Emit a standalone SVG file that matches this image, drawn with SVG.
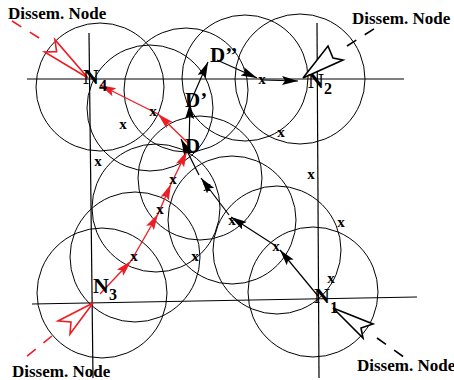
<svg xmlns="http://www.w3.org/2000/svg" width="454" height="380" viewBox="0 0 454 380">
<style>
.c{fill:none;stroke:#000;stroke-width:1}
.g{fill:none;stroke:#000;stroke-width:1.2}
.bl{fill:none;stroke:#000;stroke-width:1.2}
.rl{fill:none;stroke:#ee1c24;stroke-width:1.3}
.tail{fill:#fff;stroke-width:1.6;stroke-linejoin:miter}
.dash{stroke-width:1.6;stroke-dasharray:11 10;fill:none}
.x{font-family:"Liberation Serif",serif;font-weight:bold;font-size:15px;text-anchor:middle}
.lbl{font-family:"Liberation Serif",serif;font-weight:bold;font-size:17px}
.dl{font-family:"Liberation Serif",serif;font-weight:bold;font-size:21px}
.n{font-family:"Liberation Serif",serif;font-weight:bold;font-size:22px}
.ns{font-family:"Liberation Serif",serif;font-weight:bold;font-size:16px}
</style>
<defs>
<marker id="ab" markerUnits="userSpaceOnUse" markerWidth="16" markerHeight="10" refX="16" refY="4.5" orient="auto"><path d="M0,0 L16,4.5 L0,9 L3,4.5 z" fill="#000"/></marker>
<marker id="ar" markerUnits="userSpaceOnUse" markerWidth="16" markerHeight="10" refX="16" refY="4.5" orient="auto"><path d="M0,0 L16,4.5 L0,9 L3,4.5 z" fill="#ee1c24"/></marker>
</defs>
<g id="ranges">
<circle class="c" cx="100" cy="87" r="64"/>
<circle class="c" cx="150" cy="108" r="63"/>
<circle class="c" cx="186" cy="90" r="62"/>
<circle class="c" cx="245" cy="78" r="63"/>
<circle class="c" cx="300" cy="79" r="65"/>
<circle class="c" cx="200" cy="178" r="62"/>
<circle class="c" cx="156" cy="208" r="64"/>
<circle class="c" cx="135" cy="257" r="65"/>
<circle class="c" cx="102" cy="293" r="65"/>
<circle class="c" cx="277" cy="250" r="64"/>
<circle class="c" cx="313" cy="292" r="65"/>
<circle class="c" cx="232" cy="220" r="64"/>
</g>
<g id="grid">
<line class="g" x1="27" y1="79" x2="404" y2="79"/>
<line class="g" x1="89" y1="33" x2="93" y2="378"/>
<line class="g" x1="317" y1="23" x2="319" y2="378"/>
<line class="g" x1="32" y1="304" x2="417" y2="297"/>
</g>
<g id="connectors">
<line class="rl" x1="100" y1="294" x2="131" y2="261" marker-end="url(#ar)"/>
<line class="rl" x1="131" y1="261" x2="158" y2="214" marker-end="url(#ar)"/>
<line class="rl" x1="158" y1="214" x2="171" y2="184" marker-end="url(#ar)"/>
<line class="rl" x1="171" y1="184" x2="187" y2="151" marker-end="url(#ar)"/>
<line class="rl" x1="188" y1="143" x2="158" y2="114" marker-end="url(#ar)"/>
<line class="rl" x1="158" y1="114" x2="100" y2="85" marker-end="url(#ar)"/>
<line class="bl" x1="189" y1="147" x2="190" y2="103" marker-end="url(#ab)"/>
<line class="bl" x1="190" y1="103" x2="208" y2="62" marker-end="url(#ab)"/>
<line class="bl" x1="217" y1="60" x2="257" y2="78" marker-end="url(#ab)"/>
<line class="bl" x1="262" y1="80" x2="298" y2="81" marker-end="url(#ab)"/>
<line class="bl" x1="318" y1="296" x2="280" y2="250" marker-end="url(#ab)"/>
<line class="bl" x1="276" y1="246" x2="231" y2="217" marker-end="url(#ab)"/>
<line class="bl" x1="229" y1="215" x2="201" y2="178" marker-end="url(#ab)"/>
<line class="bl" x1="199" y1="175" x2="181" y2="139" marker-end="url(#ab)"/>
<line class="dash" stroke="#ee1c24" x1="12" y1="21" x2="44" y2="41"/>
<polygon class="tail" stroke="#ee1c24" points="88,78 54.9,39.7 56.6,51.6 44.6,51.9"/>
<line class="dash" stroke="#000" x1="347" y1="46" x2="380" y2="25"/>
<polygon class="tail" stroke="#000" points="303,78 328,46 333,58 343,60"/>
<line class="dash" stroke="#000" x1="377" y1="338" x2="408" y2="360"/>
<polygon class="tail" stroke="#000" points="333,308 373,324 361,328 363,338"/>
<line class="dash" stroke="#ee1c24" x1="52" y1="336" x2="20" y2="362"/>
<polygon class="tail" stroke="#ee1c24" points="93,303 58,321 71,322 70,334"/>
</g>
<g id="N4"><text class="n" x="83" y="84">N</text><text class="ns" x="99" y="91">4</text></g>
<g id="N2"><text class="n" x="308" y="88">N</text><text class="ns" x="324" y="94">2</text></g>
<g id="N3"><text class="n" x="93" y="293">N</text><text class="ns" x="109" y="300">3</text></g>
<g id="N1"><text class="n" x="314" y="303">N</text><text class="ns" x="330" y="313">1</text></g>
<g id="D"><text class="dl" x="185" y="153">D</text></g>
<g id="Dp"><text class="dl" x="185" y="107">D’</text></g>
<g id="Dpp"><text class="dl" x="210" y="62">D’’</text></g>
<g id="dissem">
<text class="lbl" x="8" y="19">Dissem. Node</text>
<text class="lbl" x="352" y="24">Dissem. Node</text>
<text class="lbl" x="12" y="377">Dissem. Node</text>
<text class="lbl" x="357" y="371">Dissem. Node</text>
</g>
<g id="relays">
<text class="x" x="123" y="129">x</text>
<text class="x" x="153" y="116">x</text>
<text class="x" x="98" y="166">x</text>
<text class="x" x="262" y="84">x</text>
<text class="x" x="281" y="137">x</text>
<text class="x" x="311" y="179">x</text>
<text class="x" x="341" y="227">x</text>
<text class="x" x="331" y="283">x</text>
<text class="x" x="232" y="225">x</text>
<text class="x" x="276" y="251">x</text>
<text class="x" x="207" y="191">x</text>
<text class="x" x="195" y="261">x</text>
<text class="x" x="160" y="214">x</text>
<text class="x" x="173" y="184">x</text>
<text class="x" x="134" y="261">x</text>
</g>
</svg>
